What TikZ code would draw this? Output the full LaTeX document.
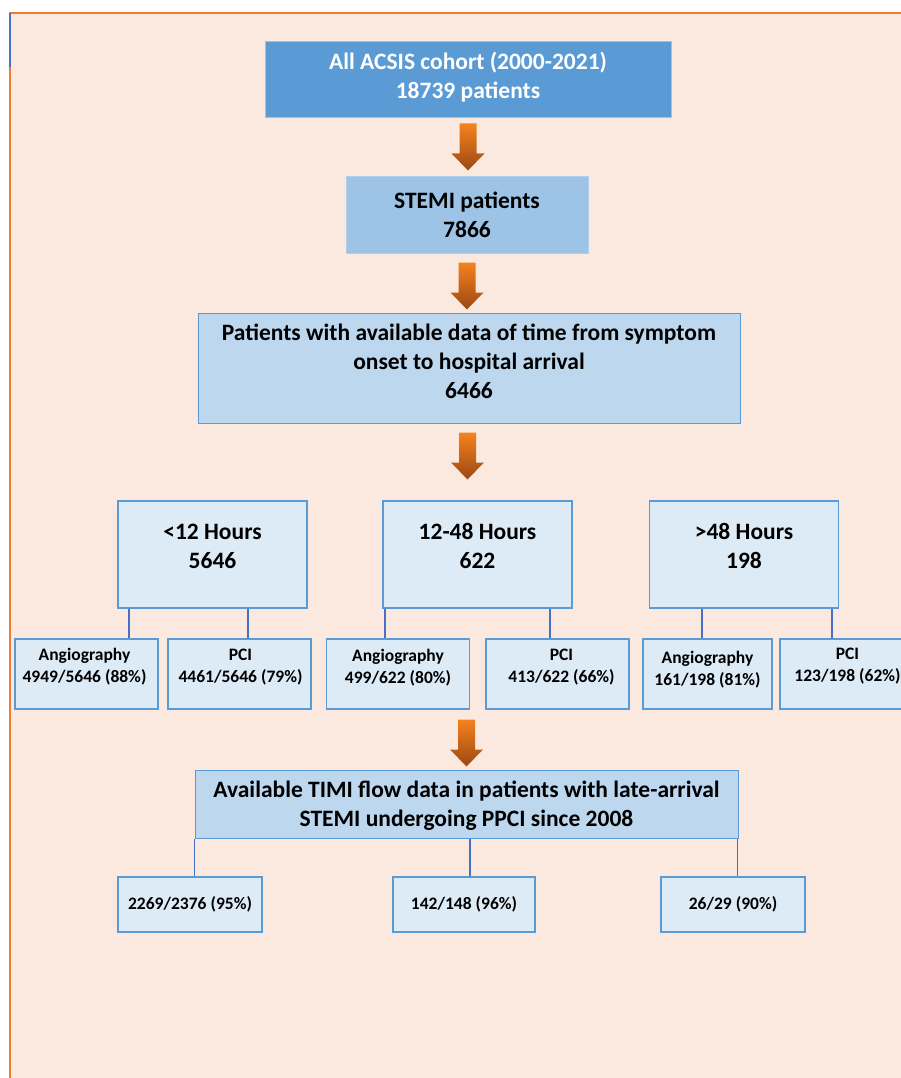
\documentclass[tikz,border=0pt]{standalone}
\usepackage{fontspec}
\setmainfont{Carlito}
\usetikzlibrary{positioning,calc}

\definecolor{peach}{HTML}{FBE9DF}
\definecolor{frameorange}{HTML}{ED7D31}
\definecolor{frameblue}{HTML}{4472C4}
\definecolor{darkfill}{HTML}{5B9BD5}
\definecolor{midfill}{HTML}{9DC3E6}
\definecolor{lightfill}{HTML}{BDD7EE}
\definecolor{palefill}{HTML}{DDEBF7}
\definecolor{boxedge}{HTML}{5B9BD5}
\definecolor{linkblue}{HTML}{4472C4}
\definecolor{arrowtop}{HTML}{F5821F}
\definecolor{arrowbot}{HTML}{9C4812}

\newcommand{\bigtext}{\fontsize{23.5}{29}\selectfont\bfseries}
\newcommand{\smalltext}{\fontsize{17.5}{22}\selectfont\bfseries}
% orange block arrow hanging below a point
\newcommand{\blockarrow}[1]{%
  \shade[top color=arrowtop,bottom color=arrowbot] ($#1+(-8.5,0)$) -- ++(17,0) -- ++(0,30)
    -- ++(8,0) -- ++(-16.5,17) -- ++(-16.5,-17) -- ++(8,0) -- cycle;}

\begin{document}
\begin{tikzpicture}[x=1pt,y=-1pt,
    mainbox/.style={draw=midfill,line width=1pt,fill=darkfill,text=white,align=center,
      font=\bigtext,inner sep=0pt,minimum width=406pt,minimum height=76pt},
    stemibox/.style={draw=midfill!80,line width=1pt,fill=midfill,align=center,
      font=\bigtext,inner sep=0pt,minimum width=242pt,minimum height=76pt},
    widebox/.style={draw=boxedge,line width=1pt,fill=lightfill,align=center,
      font=\bigtext,inner sep=0pt,minimum width=542pt},
    hourbox/.style={draw=boxedge,line width=1.5pt,fill=palefill,
      minimum width=189pt,minimum height=107pt,inner sep=0pt},
    subbox/.style={draw=boxedge,line width=1.5pt,fill=palefill,
      minimum width=143pt,minimum height=70pt,inner sep=0pt},
    flowbox/.style={draw=boxedge,line width=1.5pt,fill=palefill,font=\smalltext,
      minimum width=143pt,minimum height=55pt,inner sep=0pt},
    bigtxt/.style={align=center,font=\bigtext,inner sep=0pt},
    smalltxt/.style={align=center,font=\smalltext,inner sep=0pt},
    link/.style={draw=linkblue,line width=1.8pt}]
  \useasboundingbox (0,0) rectangle (901,1078);

  % background panel
  \fill[peach] (10,13) rectangle (901,1078);
  \draw[frameorange,line width=2pt] (10,1078) -- (10,13) -- (901,13);
  \draw[frameblue,line width=2pt] (10,13) -- (10,67);

  % cohort selection
  \node[mainbox] (all) at (468,80) {};
  \node[bigtxt,text=white] (alltxt) at ($(all)+(0,-3)$) {All ACSIS cohort (2000-2021)\\18739 patients};
  \node[stemibox] (stemi) at (467,215) {STEMI patients\\7866};
  \node[widebox,minimum height=110pt] (onset) at (469,368) {};
  \node[bigtxt] (onsettxt) at ($(onset)+(0,-7)$)
    {Patients with available data of time from symptom\\onset to hospital arrival\\6466};

  \blockarrow{(all.south)+(0,5)}
  \blockarrow{(stemi.south)+(0,9)}
  \blockarrow{(onset.south)+(-1.5,9)}

  % time groups
  \node[hourbox] (lt12) at (212.5,554.5) {};
  \node[hourbox] (mid) at (477.5,554.5) {};
  \node[hourbox] (gt48) at (744,554.5) {};
  \node[bigtxt] (lt12txt) at ($(lt12)+(0,-8.5)$) {<12 Hours\\5646};
  \node[bigtxt] (midtxt) at ($(mid)+(0,-8.5)$) {12-48 Hours\\622};
  \node[bigtxt] (gt48txt) at ($(gt48)+(0,-8.5)$) {>48 Hours\\198};

  % angiography and PCI
  \node[subbox] (angA) at (86.5,674) {};
  \node[subbox] (pciA) at (239.5,674) {};
  \node[subbox] (angB) at (398,674) {};
  \node[subbox] (pciB) at (557.5,674) {};
  \node[subbox,minimum width=129pt] (angC) at (707.5,674) {};
  \node[subbox] (pciC) at (851.5,674) {};
  \node[smalltxt] (angAtxt) at ($(angA)+(-2,-7)$) {Angiography\\4949/5646 (88\%)};
  \node[smalltxt] (pciAtxt) at ($(pciA)+(1,-7)$) {PCI\\4461/5646 (79\%)};
  \node[smalltxt] (angBtxt) at ($(angB)+(0,-6)$) {Angiography\\499/622 (80\%)};
  \node[smalltxt] (pciBtxt) at ($(pciB)+(4,-7)$) {PCI\\413/622 (66\%)};
  \node[smalltxt] (angCtxt) at ($(angC)+(0,-4)$) {Angiography\\161/198 (81\%)};
  \node[smalltxt] (pciCtxt) at ($(pciC)+(-4,-8)$) {PCI\\123/198 (62\%)};

  \draw[link] ($(lt12.south west)+(12,0)$) coordinate (l1) -- (l1 |- angA.north);
  \draw[link] ($(lt12.south east)+(-60,0)$) coordinate (l2) -- (l2 |- pciA.north);
  \draw[link] ($(mid.south west)+(3,0)$) coordinate (l3) -- (l3 |- angB.north);
  \draw[link] ($(mid.south east)+(-23,0)$) coordinate (l4) -- (l4 |- pciB.north);
  \draw[link] ($(gt48.south west)+(53,0)$) coordinate (l5) -- (l5 |- angC.north);
  \draw[link] ($(gt48.south east)+(-7,0)$) coordinate (l6) -- (l6 |- pciC.north);

  % TIMI flow
  \node[widebox,minimum width=543pt,minimum height=68pt] (timi) at (466.5,804) {};
  \node[bigtxt] (timitxt) at ($(timi)+(0,2)$)
    {Available TIMI flow data in patients with late-arrival\\STEMI undergoing PPCI since 2008};
  \blockarrow{(timi.north)+(0,-50)}

  \node[flowbox,minimum width=144pt] (flowA) at (190,904.5) {2269/2376 (95\%)};
  \node[flowbox,minimum width=142pt] (flowB) at (464,904.5) {142/148 (96\%)};
  \node[flowbox,minimum width=144pt] (flowC) at (733,904.5) {26/29 (90\%)};

  \draw[link] (timi.south west) -- (timi.south west |- flowA.north);
  \draw[link] ($(timi.south)+(3.5,0)$) coordinate (t2) -- (t2 |- flowB.north);
  \draw[link] ($(timi.south east)+(-1,0)$) coordinate (t3) -- (t3 |- flowC.north);
\end{tikzpicture}
\end{document}
